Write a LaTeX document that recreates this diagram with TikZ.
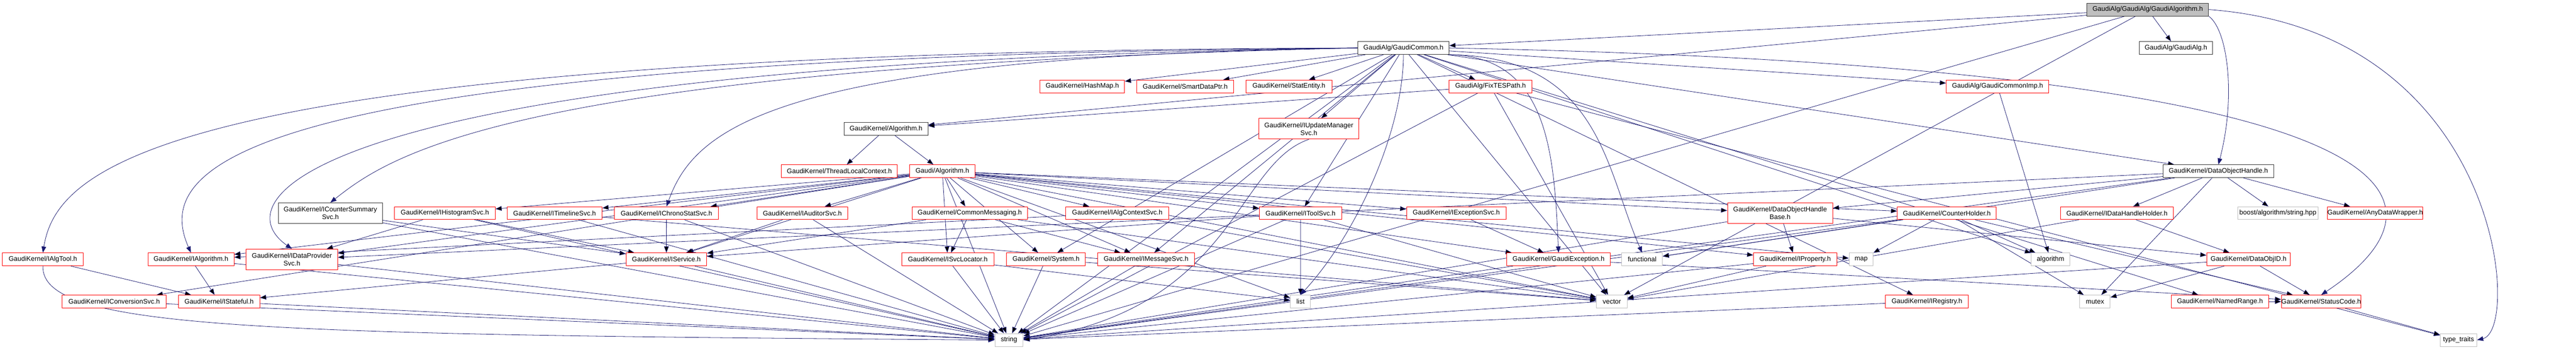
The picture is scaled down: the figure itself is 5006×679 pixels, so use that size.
\documentclass[tikz,border=0pt]{standalone}
\usepackage{fontspec}
\setmainfont{Liberation Sans}
\usetikzlibrary{arrows.meta}
\definecolor{edgeblue}{HTML}{191970}
\definecolor{boxred}{HTML}{FF0000}
\definecolor{boxgray}{HTML}{BFBFBF}
\pgfdeclarelayer{bg}
\pgfsetlayers{bg,main}

\begin{document}
\begin{tikzpicture}[x=1pt,y=-1pt,
  hdr/.style={draw=boxred, fill=white, line width=1pt, inner sep=0pt,
    minimum height=25pt, align=center, font=\fontsize{13}{15}\selectfont},
  twoline/.style={minimum height=40pt},
  blackhdr/.style={hdr, draw=black!80},
  stdhdr/.style={hdr, draw=boxgray},
  roothdr/.style={hdr, draw=black!80, fill=boxgray},
  dep/.style={draw=edgeblue, line width=0.8pt, -{Triangle[length=12pt,width=9pt]}}]
  \useasboundingbox (0,0) rectangle (5006,679);
  % rank 0 and 1
  \node[roothdr, minimum width=236.7pt] (ga) at (4173.7,18.6) {GaudiAlg/GaudiAlg/GaudiAlgorithm.h};
  \node[blackhdr, minimum width=177.3pt] (gc) at (2727.3,93.2) {GaudiAlg/GaudiCommon.h};
  \node[blackhdr, minimum width=143pt] (galg) at (4228.5,93.2) {GaudiAlg/GaudiAlg.h};
  % rank 2
  \node[hdr, minimum width=164.3pt] (hashmap) at (2103.2,167.8) {GaudiKernel/HashMap.h};
  \node[hdr, minimum width=188.3pt] (smartptr) at (2303.2,167.8) {GaudiKernel/SmartDataPtr.h};
  \node[hdr, minimum width=167.3pt] (statent) at (2504.7,167.8) {GaudiKernel/StatEntity.h};
  \node[hdr, minimum width=161.7pt] (fixtes) at (2896.5,167.8) {GaudiAlg/FixTESPath.h};
  \node[hdr, minimum width=199pt] (gcimp) at (3881.8,167.8) {GaudiAlg/GaudiCommonImp.h};
  % rank 3 and 4
  \node[blackhdr, minimum width=163pt] (alg) at (1721.8,250.2) {GaudiKernel/Algorithm.h};
  \node[hdr, twoline, minimum width=193.7pt] (iupd) at (2543.5,250.2) {GaudiKernel/IUpdateManager\\Svc.h};
  \node[hdr, minimum width=225.7pt] (tlc) at (1631.2,332.6) {GaudiKernel/ThreadLocalContext.h};
  \node[hdr, minimum width=127pt] (galgo) at (1831.2,332.6) {Gaudi/Algorithm.h};
  \node[blackhdr, minimum width=214.7pt] (doh) at (4311,332.6) {GaudiKernel/DataObjectHandle.h};
  % rank 5
  \node[blackhdr, twoline, minimum width=202.7pt] (icsum) at (642,414) {GaudiKernel/ICounterSummary\\Svc.h};
  \node[hdr, minimum width=195.7pt] (ihist) at (864.5,414) {GaudiKernel/IHistogramSvc.h};
  \node[hdr, minimum width=184.7pt] (itime) at (1077.7,414) {GaudiKernel/ITimelineSvc.h};
  \node[hdr, minimum width=201.7pt] (ichrono) at (1295.2,414) {GaudiKernel/IChronoStatSvc.h};
  \node[hdr, minimum width=176.3pt] (iaud) at (1559.2,414) {GaudiKernel/IAuditorSvc.h};
  \node[hdr, minimum width=224.3pt] (cmsg) at (1884.5,414) {GaudiKernel/CommonMessaging.h};
  \node[hdr, minimum width=200.3pt] (ictx) at (2171.2,414) {GaudiKernel/IAlgContextSvc.h};
  \node[hdr, minimum width=160pt] (itool) at (2527.3,414) {GaudiKernel/IToolSvc.h};
  \node[hdr, minimum width=193.3pt] (iexc) at (2830,414) {GaudiKernel/IExceptionSvc.h};
  \node[hdr, twoline, minimum width=204.3pt] (dohb) at (3459.2,414) {GaudiKernel/DataObjectHandle\\Base.h};
  \node[hdr, minimum width=192pt] (ctrh) at (3783.3,414) {GaudiKernel/CounterHolder.h};
  \node[hdr, minimum width=219pt] (idhh) at (4113.8,414) {GaudiKernel/IDataHandleHolder.h};
  \node[stdhdr, minimum width=155.3pt] (boost) at (4426.7,414) {boost/algorithm/string.hpp};
  \node[hdr, minimum width=180pt] (anyw) at (4615.7,414) {GaudiKernel/AnyDataWrapper.h};
  % rank 6
  \node[hdr, minimum width=156.7pt] (ialgt) at (83.3,503.8) {GaudiKernel/IAlgTool.h};
  \node[hdr, minimum width=167.3pt] (ialgo) at (371,503.8) {GaudiKernel/IAlgorithm.h};
  \node[hdr, twoline, minimum width=177.7pt] (idps) at (567.2,503.8) {GaudiKernel/IDataProvider\\Svc.h};
  \node[hdr, minimum width=156.7pt] (isvc) at (1295,503.8) {GaudiKernel/IService.h};
  \node[hdr, minimum width=179pt] (isvcl) at (1841.8,503.8) {GaudiKernel/ISvcLocator.h};
  \node[hdr, minimum width=153.3pt] (sys) at (2032.7,503.8) {GaudiKernel/System.h};
  \node[hdr, minimum width=187.7pt] (imsg) at (2227.2,503.8) {GaudiKernel/IMessageSvc.h};
  \node[hdr, minimum width=200.7pt] (gexc) at (3028.7,503.8) {GaudiKernel/GaudiException.h};
  \node[stdhdr, minimum width=79pt] (func) at (3191.2,503.8) {functional};
  \node[hdr, minimum width=161.7pt] (iprop) at (3488.5,503.8) {GaudiKernel/IProperty.h};
  \node[stdhdr, minimum width=46.7pt] (map) at (3616.7,503.8) {map};
  \node[stdhdr, minimum width=74.7pt] (algo) at (3984.7,503.8) {algorithm};
  \node[hdr, minimum width=162.7pt] (doid) at (4369.7,503.8) {GaudiKernel/DataObjID.h};
  % rank 7 and 8
  \node[hdr, minimum width=201.7pt] (iconv) at (221.8,585.8) {GaudiKernel/IConversionSvc.h};
  \node[hdr, minimum width=157.7pt] (istate) at (425.8,585.8) {GaudiKernel/IStateful.h};
  \node[stdhdr, minimum width=39pt] (list) at (2527.2,585.8) {list};
  \node[stdhdr, minimum width=59.3pt] (vector) at (3132.3,585.8) {vector};
  \node[hdr, minimum width=161.7pt] (ireg) at (3744.5,585.8) {GaudiKernel/IRegistry.h};
  \node[stdhdr, minimum width=59pt] (mutex) at (4071.2,585.8) {mutex};
  \node[hdr, minimum width=188.7pt] (nrange) at (4314,585.8) {GaudiKernel/NamedRange.h};
  \node[hdr, minimum width=153pt] (status) at (4510.8,585.8) {GaudiKernel/StatusCode.h};
  \node[stdhdr, minimum width=55pt] (string) at (1960.8,660.4) {string};
  \node[stdhdr, minimum width=71pt] (ttraits) at (4777.8,660.4) {type\_traits};
  % dependencies
  \begin{pgfonlayer}{bg}
  \fill[white] (0,0) rectangle (5006,679);
  % the long curved ones
  \draw[dep] (ga.south east) .. controls (4330,60) and (4345,190) .. (doh.north);
  \draw[dep] (ga.east) .. controls (4860,60) and (4900,640) .. (ttraits.east);
  \draw[dep] (gc.west) .. controls (300,100) and (110,330) .. (ialgt.north);
  \draw[dep] (gc.west) .. controls (420,110) and (300,330) .. (ialgo.north);
  \draw[dep] (gc.west) .. controls (640,120) and (420,380) .. (idps.north);
  \draw[dep] (gc.west) .. controls (1500,110) and (1350,250) .. (ichrono.north);
  \draw[dep] (gc.west) .. controls (1000,130) and (760,300) .. (icsum.north);
  \draw[dep] (gc.south east) .. controls (3010,110) and (3020,300) .. (gexc.north);
  \draw[dep] (gc.south east) .. controls (3110,110) and (3120,330) .. (func.north);
  \draw[dep] (gc.south) .. controls (2727,250) and (2640,450) .. (list.north);
  \draw[dep] (gc.east) .. controls (4700,130) and (4800,380) .. (status.north);
  \draw[dep] (iupd.south) .. controls (2400,320) and (2400,600) .. (string.east);
  \draw[dep] (ialgt.south) .. controls (80,640) and (500,650) .. (string.west);
  % the straight ones
  \draw[dep] (ga) edge (galg) edge (gc) edge (alg) edge (vector) edge (string);
  \draw[dep] (gc) edge (hashmap) edge (smartptr) edge (statent) edge (fixtes) edge (gcimp) edge (iupd)
    edge (imsg) edge (itool) edge (sys) edge (vector) edge (string) edge (algo) edge (doh)
    edge (nrange) edge (ireg);
  \draw[dep] (fixtes) edge (alg) edge (vector) edge (string) edge (ttraits);
  \draw[dep] (gcimp) edge (algo);
  \draw[dep] (alg) edge (tlc) edge (galgo);
  \draw[dep] (galgo) edge (ihist) edge (itime) edge (ichrono) edge (iaud) edge (cmsg) edge (ictx) edge (itool)
    edge (iexc) edge (dohb) edge (ctrh) edge (ialgo) edge (idps) edge (iconv) edge (isvc) edge (isvcl)
    edge (sys) edge (imsg) edge (gexc) edge (iprop) edge (map) edge (list) edge (vector) edge (string);
  \draw[dep] (doh) edge (idhh) edge (boost) edge (anyw) edge (dohb) edge (idps) edge (func) edge (mutex) edge (string);
  \draw[dep] (icsum) edge (isvc) edge (string);
  \draw[dep] (ihist) edge (idps) edge (isvc) edge (string);
  \draw[dep] (itime) edge (vector) edge (string);
  \draw[dep] (ichrono) edge (isvc) edge (string);
  \draw[dep] (iaud) edge (isvc) edge (string);
  \draw[dep] (cmsg) edge (isvc) edge (isvcl) edge (imsg) edge (vector);
  \draw[dep] (ictx) edge (ialgo) edge (vector);
  \draw[dep] (itool) edge (isvc) edge (list) edge (vector) edge (string);
  \draw[dep] (iexc) edge (gexc);
  \draw[dep] (dohb) edge (iprop) edge (doid) edge (string);
  \draw[dep] (ctrh) edge (map) edge (algo) edge (mutex) edge (func) edge (status) edge (string);
  \draw[dep] (idhh) edge (doid) edge (vector);
  \draw[dep] (ialgt) edge (istate);
  \draw[dep] (ialgo) edge (istate) edge (string);
  \draw[dep] (idps) edge (string);
  \draw[dep] (isvc) edge (istate) edge (string);
  \draw[dep] (isvcl) edge (list) edge (string);
  \draw[dep] (sys) edge (vector) edge (string);
  \draw[dep] (imsg) edge (string);
  \draw[dep] (gexc) edge (status) edge (string);
  \draw[dep] (iprop) edge (vector) edge (string);
  \draw[dep] (doid) edge (mutex) edge (status) edge (string);
  \draw[dep] (iconv) edge (string);
  \draw[dep] (istate) edge (string);
  \draw[dep] (ireg) edge (string);
  \draw[dep] (nrange) edge (status);
  \draw[dep] (status) edge (ttraits);
  \end{pgfonlayer}
\end{tikzpicture}
\end{document}
